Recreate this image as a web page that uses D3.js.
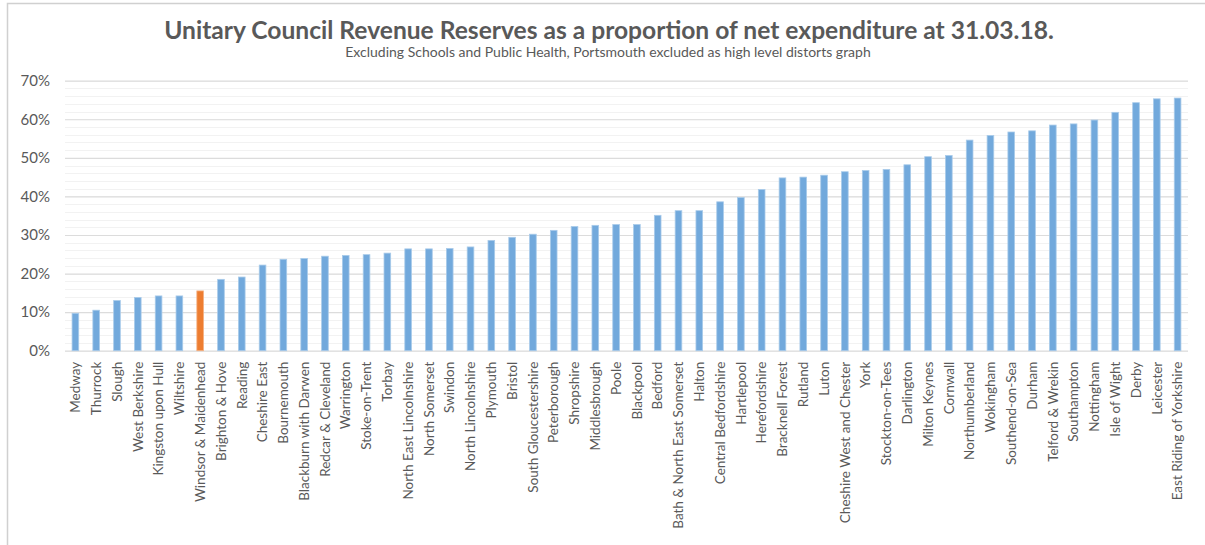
<!DOCTYPE html>
<html>
<head>
<meta charset="utf-8">
<script src="https://cdn.jsdelivr.net/npm/d3@7"></script>
<style>
  html, body { margin: 0; padding: 0; background: #fff; }
  svg { display: block; }
</style>
</head>
<body>
<svg id="chart" width="1205" height="545"></svg>
<script>
// Unitary councils, ordered by reserves as share of net expenditure
const councils = [
  "Medway", "Thurrock", "Slough", "West Berkshire", "Kingston upon Hull", "Wiltshire",
  "Windsor & Maidenhead", "Brighton & Hove", "Reading", "Cheshire East", "Bournemouth",
  "Blackburn with Darwen", "Redcar & Cleveland", "Warrington", "Stoke-on-Trent", "Torbay",
  "North East Lincolnshire", "North Somerset", "Swindon", "North Lincolnshire", "Plymouth",
  "Bristol", "South Gloucestershire", "Peterborough", "Shropshire", "Middlesbrough", "Poole",
  "Blackpool", "Bedford", "Bath & North East Somerset", "Halton", "Central Bedfordshire",
  "Hartlepool", "Herefordshire", "Bracknell Forest", "Rutland", "Luton",
  "Cheshire West and Chester", "York", "Stockton-on-Tees", "Darlington", "Milton Keynes",
  "Cornwall", "Northumberland", "Wokingham", "Southend-on-Sea", "Durham", "Telford & Wrekin",
  "Southampton", "Nottingham", "Isle of Wight", "Derby", "Leicester", "East Riding of Yorkshire"
];

// Revenue reserves as a proportion of net expenditure at 31.03.18
const reserves = [
  0.097, 0.105, 0.130, 0.138, 0.142, 0.142,
  0.155, 0.185, 0.191, 0.222, 0.237,
  0.239, 0.245, 0.247, 0.249, 0.253,
  0.264, 0.264, 0.265, 0.269, 0.286,
  0.294, 0.302, 0.312, 0.322, 0.325, 0.327,
  0.327, 0.351, 0.363, 0.363, 0.386,
  0.397, 0.418, 0.448, 0.450, 0.455,
  0.464, 0.467, 0.470, 0.482, 0.503,
  0.506, 0.546, 0.558, 0.567, 0.570, 0.585,
  0.588, 0.598, 0.618, 0.643, 0.653, 0.655
];

const highlighted = ["Windsor & Maidenhead"];

const yTicks = [0, 0.1, 0.2, 0.3, 0.4, 0.5, 0.6, 0.7];
const yMinorTicks = d3.range(0, 0.7001, 0.02);

const titleText = "Unitary Council Revenue Reserves as a proportion of net expenditure at 31.03.18.";
const subtitleText = "Excluding Schools and Public Health, Portsmouth excluded as high level distorts graph";

const data = councils.map((name, i) => ({ name, value: reserves[i] }));

const svg = d3.select("#chart");
const W = 1205, H = 545;
const plot = { left: 65, right: 1188, top: 80.7, bottom: 350.7 };
const font = "Lato, 'Open Sans', sans-serif";
const textGrey = "#595959";

// Chart frame
svg.append("rect")
  .attr("x", 7.5).attr("y", 3.5)
  .attr("width", W + 10).attr("height", H + 10)
  .attr("fill", "#fff")
  .attr("stroke", "#d0d0d0").attr("stroke-width", 1.5);

const x = d3.scaleBand()
  .domain(councils)
  .range([plot.left, plot.right])
  .paddingInner(0.68)
  .paddingOuter(0.34);

const y = d3.scaleLinear()
  .domain([0, 0.7])
  .range([plot.bottom, plot.top]);

// Minor gridlines
svg.append("g")
  .selectAll("line")
  .data(yMinorTicks)
  .join("line")
  .attr("x1", plot.left).attr("x2", plot.right)
  .attr("y1", d => Math.round(y(d)) + 0.5)
  .attr("y2", d => Math.round(y(d)) + 0.5)
  .attr("stroke", "#f2f2f2").attr("stroke-width", 1);

// Major gridlines and percentage labels
const yAxis = d3.axisLeft(y)
  .tickValues(yTicks)
  .tickFormat(d3.format(".0%"))
  .tickSize(-(plot.right - plot.left))
  .tickPadding(15);

const yg = svg.append("g")
  .attr("transform", `translate(${plot.left},0)`)
  .call(yAxis);
yg.select(".domain").remove();
yg.selectAll(".tick line")
  .attr("stroke", "#dcdcdc").attr("stroke-width", 1.2);
yg.selectAll(".tick text")
  .attr("fill", textGrey)
  .style("font-family", font)
  .style("font-size", "15px");

// Bars
svg.append("g")
  .selectAll("rect")
  .data(data)
  .join("rect")
  .attr("x", d => x(d.name))
  .attr("width", x.bandwidth())
  .attr("y", d => y(d.value))
  .attr("height", d => y(0) - y(d.value))
  .attr("fill", d => highlighted.includes(d.name) ? "#ED7D31" : "#72A9DC")
  .attr("stroke", d => highlighted.includes(d.name) ? "#F4B183" : "#A9CBEA")
  .attr("stroke-width", 0.8);

// Category labels along the bottom
const xAxis = d3.axisBottom(x).tickSize(0).tickPadding(0);
const xg = svg.append("g")
  .attr("transform", `translate(0,${plot.bottom})`)
  .call(xAxis);
xg.select(".domain").remove();
xg.selectAll(".tick text")
  .attr("transform", "translate(0,11) rotate(-90)")
  .attr("x", 0).attr("y", 0)
  .attr("dy", "0.35em")
  .attr("text-anchor", "end")
  .attr("fill", textGrey)
  .style("font-family", font)
  .style("font-size", "13.5px");

// Titles
svg.append("text")
  .attr("x", 609).attr("y", 39)
  .attr("text-anchor", "middle")
  .attr("fill", textGrey)
  .style("font-family", font)
  .style("font-weight", 700)
  .style("font-size", "24.6px")
  .text(titleText);

svg.append("text")
  .attr("x", 608).attr("y", 57)
  .attr("text-anchor", "middle")
  .attr("fill", textGrey)
  .style("font-family", font)
  .style("font-size", "14px")
  .text(subtitleText);
</script>
</body>
</html>
